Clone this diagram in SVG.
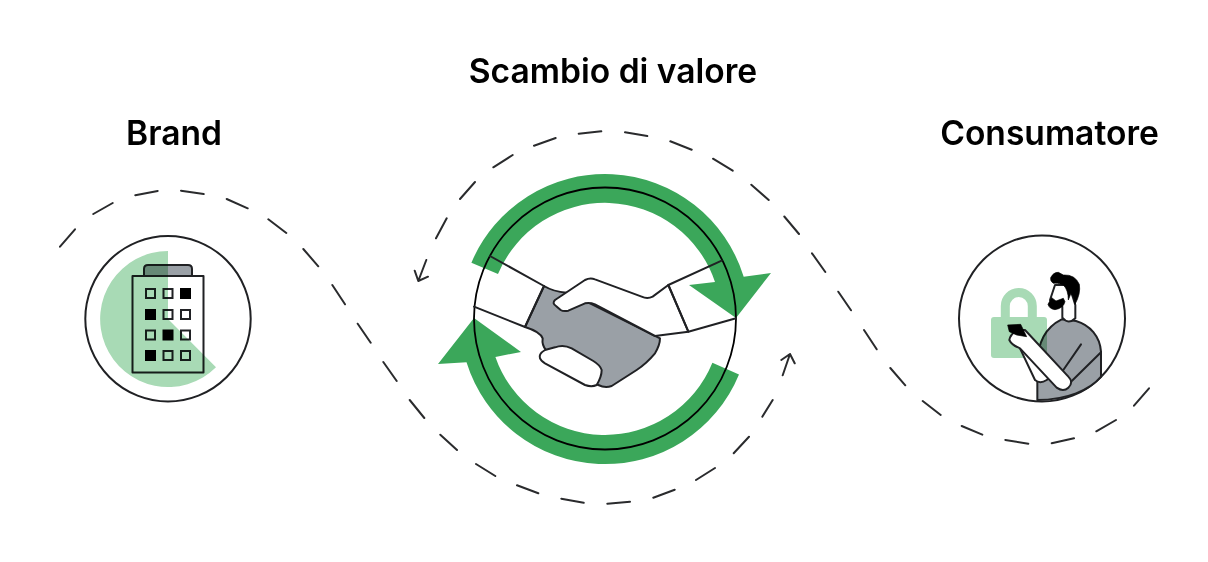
<svg xmlns="http://www.w3.org/2000/svg" width="1208" height="562" viewBox="0 0 1208 562">
<style>
text{font-family:"Inter","Liberation Sans",sans-serif;font-weight:600;font-size:33.600px;fill:#000;text-anchor:middle}
.dash{fill:none;stroke:#2a2b2d;stroke-width:2;stroke-linecap:round;stroke-linejoin:round}
.ol{stroke:#202124;stroke-width:2;stroke-linejoin:round;stroke-linecap:round}
.big{stroke:#202124;stroke-width:6;stroke-linejoin:round;stroke-linecap:round}
.win{fill:#fff;stroke:#202124;stroke-width:2}
.blk{fill:#000;stroke:#000;stroke-width:2}
.mul{mix-blend-mode:multiply}
.lt{fill:#a8dab5}
.g{fill:#3ba75a}
.gray{fill:#9aa0a6}
.w{fill:#fff}
.n{fill:none}
</style>
<rect width="1208" height="562" fill="#fff"/>
<g id="connectors">
<path class="dash" d="M60,246.700L75,229.300M93.300,214L112.700,203M135.300,195.300L157.700,191M181,190.700L203.700,194M226.700,199L247.700,208.300M268.300,219.300L286.300,233M303.300,249L318.300,266.300M332.300,285L345,304.300M357.700,323.700L370.700,342.700M383.300,362L396.700,381M409.700,400L424.300,418M440.300,434.700L457,450M476,464L495.300,476M517,485.300L538.300,493.300M561.300,498.700L583.700,502.700M607.300,503.700L630,501.700M653.300,497.700L674.700,489.700M696,480L715,468M733.700,453.300L749,436.700M762.300,416.700L772.700,400M782.700,375.300L790,354M781.300,360L790,354L794.700,363.300"/>
<path class="dash" d="M1149,388.300L1134,405.700M1116,420L1096.300,431.300M1074,438.300L1051.700,443.300M1028.300,443.700L1005.300,440M982.300,434.700L961.700,426M940.700,415L922.700,401M905.300,385.300L890.300,368M876.700,349.300L864,330M851,310.300L838.300,291.700M825.300,272L812,253.300M799,234L784.300,216.500M768.700,200L751.300,184.700M732.700,170.700L713,158.700M691.700,149.700L670.300,141.300M647.300,136L625,132.300M601.300,131.300L578.700,133.700M555.700,138L534,145.700M512.700,155L493.300,167.300M475,182L460,199M446.700,218.300L436,238.300M426.300,260L418.300,281M414.700,270.700L418.300,281L428,276.700"/>
</g>
<g id="brand">
<circle cx="168" cy="318.700" r="82.700" fill="#fff" stroke="#202124" stroke-width="2"/>
<path class="ol gray" d="M144,276V269Q144,265 148,265H188Q192,265 192,269V276Z"/>
<rect class="ol w" x="132.500" y="276" width="71" height="96.500"/>
<rect class="win" x="146" y="289" width="9" height="9"/><rect class="win" x="163.500" y="289" width="9" height="9"/><rect class="blk" x="181" y="289" width="9" height="9"/>
<rect class="blk" x="146" y="310" width="9" height="9"/><rect class="win" x="163.500" y="310" width="9" height="9"/><rect class="win" x="181" y="310" width="9" height="9"/>
<rect class="win" x="146" y="330.500" width="9" height="9"/><rect class="blk" x="163.500" y="330.500" width="9" height="9"/><rect class="win" x="181" y="330.500" width="9" height="9"/>
<rect class="blk" x="146" y="351" width="9" height="9"/><rect class="win" x="163.500" y="351" width="9" height="9"/><rect class="win" x="181" y="351" width="9" height="9"/>
<path class="lt mul" d="M168,319V251A68,68 0 1 0 216,367.300Z"/>
<text x="174" y="144.500">Brand</text>
</g>
<g id="handshake">
<circle cx="605" cy="318.500" r="131" fill="#fff"/>
<path class="g" d="M471.400,262.700A145,145 0 0 1 743.700,276.800L771,273L736,318L689,285L715,282A116,116 0 0 0 498,274Z"/>
<path class="g" d="M712.400,362.800A116,116 0 0 1 495.400,356.900L521,352L474,318L438,364L466.500,362.200A145,145 0 0 0 739,374.400Z"/>
<circle cx="605" cy="318.500" r="131" fill="none" stroke="#000" stroke-width="1.800"/>
<g transform="translate(530 270) scale(.33333)">
<path class="big gray" d="M42,48Q70,65 110,68L180,100L390,205Q390,225 375,250Q350,280 320,300L245,348Q225,355 205,345L30,260L48,240Q35,225 38,205Q30,185 -15,171Z"/>
<path class="big w" d="M415,45L368,80Q352,88 335,80L195,28Q180,22 165,30L75,90Q65,100 78,108L92,120Q100,125 115,122L165,100Q180,97 195,103L375,198L475,185Z"/>
<path class="big w" d="M45,240Q25,252 30,265Q32,272 45,280L165,345Q185,352 200,345Q215,320 215,300Q210,285 190,273L125,235Q100,222 75,232Z"/>
<path class="big n" d="M-120,-42L42,48L-15,171L-168,110M575,-28L415,45L475,185L618,145"/>
</g>
<text x="613" y="82.500">Scambio di valore</text>
</g>
<g id="consumatore">
<circle cx="1042" cy="318.500" r="83" fill="#fff" stroke="#202124" stroke-width="2"/>
<g transform="translate(1000 265) scale(.33333)">
<path class="big gray" d="M112,405V300C112,240 130,190 185,163L228,168C270,180 300,215 303,260V335C270,375 200,405 112,405Z"/>
</g>
<path class="lt mul" d="M991,320Q991,317 994,317H1044Q1047,317 1047,320V355Q1047,358 1044,358H994Q991,358 991,355Z"/>
<path d="M1005.300,317V306A13.500,13.500 0 0 1 1032.300,306V317" fill="none" stroke="#a8dab5" stroke-width="9"/>
<g transform="translate(1000 265) scale(.33333)">
<path class="big w" d="M60,250L105,345Q120,358 140,345L170,320L90,235Z"/>
<path class="big w" d="M75,195L205,335Q222,352 205,368Q190,382 170,368L60,250Q35,240 28,225Q30,210 50,195Z"/>
<path class="big n" d="M243,238L190,315M303,262L213,350"/>
<path class="big w" d="M165,60L150,105L187,125V158Q205,180 226,160V120L215,85L195,60Z"/>
<path class="blk" d="M152,38Q160,22 175,22L190,30Q225,28 238,58Q243,85 225,118Q222,95 213,85L205,105Q205,75 190,60Q170,52 160,55Q150,48 152,38ZM144,118L155,98L168,108L190,100L195,110Q190,130 165,134Q148,132 144,118Z"/>
<path class="blk" d="M23,180L62,178L80,215L50,210L28,200Z"/>
</g>
<text x="1049.500" y="144.500">Consumatore</text>
</g>
</svg>
